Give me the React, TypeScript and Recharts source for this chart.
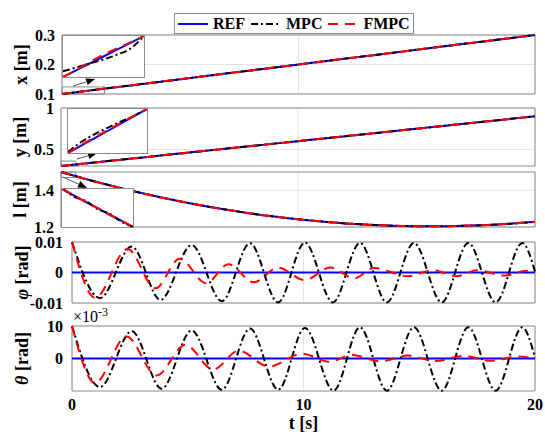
import React from 'react';
import {
  LineChart,
  Line,
  XAxis,
  YAxis,
  CartesianGrid,
  ReferenceArea,
  ReferenceLine,
  Legend,
} from 'recharts';

const FONT = '"Liberation Serif", "Times New Roman", serif';
const W = 545;
const PLOT_RIGHT = 535;

// ---- time axis ----
const tTicks = [0, 10, 20];
const tTrack = [0, 1, 2, 3, 4, 5, 6, 7, 8, 9, 10, 11, 12, 13, 14, 15, 16, 17, 18, 19, 20];

// ---- position tracking (the three controllers sit on top of each other) ----
const xTrack = [0.1, 0.11, 0.12, 0.13, 0.14, 0.15, 0.16, 0.17, 0.18, 0.19, 0.2, 0.21, 0.22, 0.23, 0.24, 0.25, 0.26, 0.27, 0.28, 0.29, 0.3];
const yTrack = [0.3, 0.33, 0.36, 0.39, 0.42, 0.45, 0.48, 0.51, 0.54, 0.57, 0.6, 0.63, 0.66, 0.69, 0.72, 0.75, 0.78, 0.81, 0.84, 0.87, 0.9];
const lTrack = [1.5, 1.4632, 1.4289, 1.397, 1.3675, 1.3405, 1.3159, 1.2938, 1.2741, 1.2568, 1.242, 1.2296, 1.2197, 1.2122, 1.2071, 1.2045, 1.2043, 1.2066, 1.2113, 1.2184, 1.228];

// ---- zoomed start of each position trace ----
const tZoomX = [0, 0.3, 0.6, 0.9, 1.2, 1.5, 1.8];
const xZoomRef = [0.1, 0.103, 0.106, 0.109, 0.112, 0.115, 0.118];
const xZoomMpc = [0.1025, 0.1042, 0.106, 0.1077, 0.1098, 0.1125, 0.118];
const xZoomFmpc = [0.1, 0.1032, 0.1066, 0.1098, 0.1126, 0.1152, 0.118];

const tZoomY = [0, 0.1, 0.2, 0.3, 0.4, 0.5, 0.6];
const yZoomRef = [0.3, 0.303, 0.306, 0.309, 0.312, 0.315, 0.318];
const yZoomMpc = [0.3004, 0.3045, 0.3076, 0.3103, 0.3128, 0.3152, 0.318];
const yZoomFmpc = [0.3, 0.3033, 0.3063, 0.3094, 0.3123, 0.3152, 0.318];

const tZoomL = [0, 0.1, 0.2, 0.3, 0.4, 0.5, 0.6];
const lZoomRef = [1.5, 1.4962, 1.4924, 1.4887, 1.485, 1.4813, 1.4776];
const lZoomMpc = [1.5008, 1.4955, 1.493, 1.4882, 1.4855, 1.4808, 1.4776];
const lZoomFmpc = [1.5, 1.4964, 1.4922, 1.4889, 1.4848, 1.4815, 1.4776];

// ---- swing angles (peaks of each oscillation) ----
const tRefFlat = [0, 20];
const angleRef = [0, 0];

const tPhiMpc = [0, 1.21, 2.58, 3.82, 5.17, 6.47, 7.69, 8.9, 10.06, 11.27, 12.44, 13.6, 14.77, 15.97, 17.12, 18.3, 19.45, 20];
const phiMpc = [0.01, -0.0084, 0.0085, -0.009, 0.009, -0.0094, 0.0096, -0.0098, 0.0098, -0.0098, 0.0097, -0.0098, 0.0097, -0.0098, 0.0097, -0.0098, 0.0097, 0.0003];
const tPhiFmpc = [0, 1.0, 2.4, 3.6, 4.65, 5.8, 6.75, 7.85, 8.9, 10.05, 11.15, 12.2, 13.05, 14.5, 15.6, 16.6, 17.5, 18.7, 19.6, 20];
const phiFmpc = [0.01, -0.0083, 0.0077, -0.0052, 0.0045, -0.0035, 0.0027, -0.0032, 0.0016, -0.0025, 0.0016, -0.0019, 0.0015, -0.0012, 0.0007, -0.0012, 0.0007, -0.001, 0.0005, 0.0001];

const tThMpc = [0, 1.21, 2.58, 3.87, 5.17, 6.47, 7.69, 8.91, 10.06, 11.3, 12.44, 13.6, 14.77, 15.97, 17.12, 18.3, 19.45, 20];
const thMpc = [10, -8.8, 8.4, -9.3, 8.6, -9.6, 9.2, -9.6, 9.4, -9.9, 9.6, -9.9, 9.6, -9.9, 9.6, -9.9, 9.6, 0.3];
const tThFmpc = [0, 1.0, 2.35, 3.65, 4.9, 6.1, 7.2, 8.5, 9.95, 11.1, 12.1, 13.3, 14.5, 15.7, 16.9, 18.1, 19.3, 20];
const thFmpc = [10, -7.5, 6.8, -5.2, 4.2, -3.4, 2.4, -2.5, 1.5, -1.0, 1.1, -0.9, 0.9, -0.8, 0.8, -0.7, 0.6, 0];

const seriesNames = ['REF', 'MPC', 'FMPC'] as const;
type SeriesName = (typeof seriesNames)[number];
type Pt = { t: number; v: number };
type Trio = Record<SeriesName, Pt[]>;

const zip = (ts: number[], vs: number[]): Pt[] => ts.map((t, i) => ({ t, v: vs[i] }));
const same = (ts: number[], vs: number[]): Trio => ({ REF: zip(ts, vs), MPC: zip(ts, vs), FMPC: zip(ts, vs) });

const lineStyle: Record<SeriesName, { stroke: string; dash?: string }> = {
  REF: { stroke: '#0000ff' },
  MPC: { stroke: '#000000', dash: '7 3 2 3' },
  FMPC: { stroke: '#ff0000', dash: '10 7' },
};

const tickStyle = { fill: '#000', fontSize: 16, fontWeight: 'bold', fontFamily: FONT };

const renderLines = (trio: Trio) =>
  seriesNames.map((name) => (
    <Line
      key={name}
      data={trio[name]}
      dataKey="v"
      name={name}
      type="monotone"
      stroke={lineStyle[name].stroke}
      strokeDasharray={lineStyle[name].dash}
      strokeWidth={2}
      dot={false}
      activeDot={false}
      isAnimationActive={false}
    />
  ));

const LegendBox = () => (
  <div
    style={{
      boxSizing: 'border-box',
      width: 240,
      height: 21,
      border: '1px solid #8c8c8c',
      background: '#fff',
      display: 'flex',
      alignItems: 'center',
      paddingLeft: 3,
      fontFamily: FONT,
      fontWeight: 'bold',
      fontSize: 16,
      color: '#000',
    }}
  >
    {seriesNames.map((name) => (
      <div key={name} style={{ display: 'flex', alignItems: 'center', marginRight: 6 }}>
        <svg width={30} height={6}>
          <line
            x1={0}
            y1={3}
            x2={30}
            y2={3}
            stroke={lineStyle[name].stroke}
            strokeWidth={2}
            strokeDasharray={lineStyle[name].dash}
          />
        </svg>
        <span style={{ marginLeft: 5, lineHeight: '19px' }}>{name}</span>
      </div>
    ))}
  </div>
);

// arrow from the small marked box towards its magnified view
const Arrow = (p: any) => {
  const { x1, y1, x2, y2 } = p;
  const a = Math.atan2(y2 - y1, x2 - x1);
  const len = 9;
  const half = 3.5;
  const bx = x2 - len * Math.cos(a);
  const by = y2 - len * Math.sin(a);
  const nx = -Math.sin(a) * half;
  const ny = Math.cos(a) * half;
  return (
    <g>
      <line x1={x1} y1={y1} x2={bx} y2={by} stroke="#555" strokeWidth={1} />
      <polygon points={`${x2},${y2} ${bx + nx},${by + ny} ${bx - nx},${by - ny}`} fill="#000" />
    </g>
  );
};

type PanelProps = {
  top: number;
  left: number;
  height: number;
  padTop: number;
  padBottom: number;
  domain: [number, number];
  ticks: number[];
  tickGap: number;
  title: React.ReactNode;
  titleX: number;
  lines: Trio;
  showTime?: boolean;
  extra?: React.ReactNode;
  children?: React.ReactNode;
};

function Panel(p: PanelProps) {
  const axisH = p.showTime ? 41 : 0;
  const h = p.padTop + p.height + p.padBottom + axisH;
  const cy = p.padTop + p.height / 2;
  return (
    <div style={{ position: 'absolute', left: 0, top: p.top - p.padTop }}>
      <LineChart
        width={W}
        height={h}
        margin={{ top: p.padTop, right: W - PLOT_RIGHT, bottom: p.padBottom, left: 0 }}
      >
        <CartesianGrid stroke="#e4e4e4" horizontalValues={p.ticks} verticalValues={tTicks} />
        <XAxis
          type="number"
          dataKey="t"
          domain={[0, 20]}
          ticks={tTicks}
          interval={0}
          hide={!p.showTime}
          height={axisH}
          tickLine={false}
          axisLine={false}
          tickSize={6}
          tickMargin={2}
          tick={tickStyle}
          label={{
            content: () => (
              <text
                x={(p.left + PLOT_RIGHT) / 2}
                y={p.padTop + p.height + 38}
                textAnchor="middle"
                fontFamily={FONT}
                fontWeight="bold"
                fontSize={18}
                fill="#000"
              >
                t [s]
              </text>
            ),
          }}
        />
        <YAxis
          type="number"
          domain={p.domain}
          ticks={p.ticks}
          interval={0}
          width={p.left}
          tickLine={false}
          axisLine={false}
          tickSize={4}
          tickMargin={p.tickGap - 4}
          tick={tickStyle}
          label={{
            content: () => (
              <g>
                <text
                  x={p.titleX}
                  y={cy}
                  transform={`rotate(-90 ${p.titleX} ${cy})`}
                  textAnchor="middle"
                  fontFamily={FONT}
                  fontWeight="bold"
                  fontSize={18}
                  fill="#000"
                >
                  {p.title}
                </text>
                {p.extra}
              </g>
            ),
          }}
        />
        <ReferenceArea
          x1={0}
          x2={20}
          y1={p.domain[0]}
          y2={p.domain[1]}
          fill="none"
          stroke="#8c8c8c"
          strokeWidth={1}
          ifOverflow="visible"
        />
        {p.children}
        {renderLines(p.lines)}
      </LineChart>
    </div>
  );
}

type InsetProps = {
  left: number;
  top: number;
  width: number;
  height: number;
  xDomain: [number, number];
  yDomain: [number, number];
  lines: Trio;
};

function Inset(p: InsetProps) {
  return (
    <div
      style={{
        position: 'absolute',
        left: p.left,
        top: p.top,
        width: p.width,
        height: p.height,
        boxSizing: 'border-box',
        border: '1px solid #8c8c8c',
        background: '#fff',
      }}
    >
      <LineChart width={p.width - 2} height={p.height - 2} margin={{ top: 0, right: 0, bottom: 0, left: 0 }}>
        <XAxis type="number" dataKey="t" domain={p.xDomain} hide allowDataOverflow />
        <YAxis type="number" domain={p.yDomain} hide allowDataOverflow />
        {renderLines(p.lines)}
      </LineChart>
    </div>
  );
}

const markBox = { fill: 'none', stroke: '#8c8c8c', strokeWidth: 1, ifOverflow: 'visible' as const };

export default function App() {
  const phiLines: Trio = { REF: zip(tRefFlat, angleRef), MPC: zip(tPhiMpc, phiMpc), FMPC: zip(tPhiFmpc, phiFmpc) };
  const thLines: Trio = { REF: zip(tRefFlat, angleRef), MPC: zip(tThMpc, thMpc), FMPC: zip(tThFmpc, thFmpc) };

  return (
    <div style={{ position: 'absolute', left: 0, top: 0, width: W, height: 432, background: '#fff', overflow: 'hidden' }}>
      <Panel
        top={35}
        left={62}
        height={59}
        padTop={30}
        padBottom={12}
        domain={[0.1, 0.3]}
        ticks={[0.1, 0.2, 0.3]}
        tickGap={7}
        titleX={27}
        title="x [m]"
        lines={same(tTrack, xTrack)}
      >
        <Legend
          verticalAlign="middle"
          align="center"
          layout="horizontal"
          wrapperStyle={{ top: 8, left: 174, width: 240, height: 21 }}
          content={() => <LegendBox />}
        />
        <ReferenceArea x1={0} x2={1.8} y1={0.1} y2={0.124} {...markBox} />
        <ReferenceLine segment={[{ x: 0.47, y: 0.127 }, { x: 1.4, y: 0.151 }]} shape={Arrow} ifOverflow="visible" />
      </Panel>

      <Panel
        top={108}
        left={61}
        height={58}
        padTop={8}
        padBottom={12}
        domain={[0.3, 1]}
        ticks={[0.5, 1]}
        tickGap={7}
        titleX={26}
        title="y [m]"
        lines={same(tTrack, yTrack)}
      >
        <ReferenceArea x1={0} x2={0.62} y1={0.3} y2={0.36} {...markBox} />
        <ReferenceLine segment={[{ x: 0.675, y: 0.384 }, { x: 1.52, y: 0.457 }]} shape={Arrow} ifOverflow="visible" />
      </Panel>

      <Panel
        top={172}
        left={61}
        height={55}
        padTop={6}
        padBottom={12}
        domain={[1.2, 1.5]}
        ticks={[1.2, 1.4]}
        tickGap={7}
        titleX={26}
        title="l [m]"
        lines={same(tTrack, lTrack)}
      >
        <ReferenceArea x1={0} x2={0.62} y1={1.47} y2={1.5} {...markBox} />
        <ReferenceLine segment={[{ x: 0.08, y: 1.4727 }, { x: 1.1, y: 1.4127 }]} shape={Arrow} ifOverflow="visible" />
      </Panel>

      <Panel
        top={242}
        left={72}
        height={61}
        padTop={10}
        padBottom={12}
        domain={[-0.01, 0.01]}
        ticks={[-0.01, 0, 0.01]}
        tickGap={9}
        titleX={28}
        title={
          <>
            <tspan fontStyle="italic">φ</tspan> [rad]
          </>
        }
        lines={phiLines}
      />

      <Panel
        top={326}
        left={72}
        height={65}
        padTop={22}
        padBottom={0}
        domain={[-10, 10]}
        ticks={[0, 10]}
        tickGap={9}
        titleX={28}
        title={
          <>
            <tspan fontStyle="italic">θ</tspan> [rad]
          </>
        }
        extra={
          <text x={73} y={18} fontFamily={FONT} fontSize={16} fill="#000">
            ×10
            <tspan dy={-6} fontSize={12}>
              -3
            </tspan>
          </text>
        }
        lines={thLines}
        showTime
      />

      <Inset
        left={62}
        top={35}
        width={83}
        height={43}
        xDomain={[0, 1.8]}
        yDomain={[0.1, 0.118]}
        lines={{ REF: zip(tZoomX, xZoomRef), MPC: zip(tZoomX, xZoomMpc), FMPC: zip(tZoomX, xZoomFmpc) }}
      />
      <Inset
        left={67}
        top={108}
        width={81}
        height={46}
        xDomain={[0, 0.6]}
        yDomain={[0.3, 0.318]}
        lines={{ REF: zip(tZoomY, yZoomRef), MPC: zip(tZoomY, yZoomMpc), FMPC: zip(tZoomY, yZoomFmpc) }}
      />
      <Inset
        left={61}
        top={188}
        width={73}
        height={40}
        xDomain={[0, 0.6]}
        yDomain={[1.4776, 1.5]}
        lines={{ REF: zip(tZoomL, lZoomRef), MPC: zip(tZoomL, lZoomMpc), FMPC: zip(tZoomL, lZoomFmpc) }}
      />
    </div>
  );
}
